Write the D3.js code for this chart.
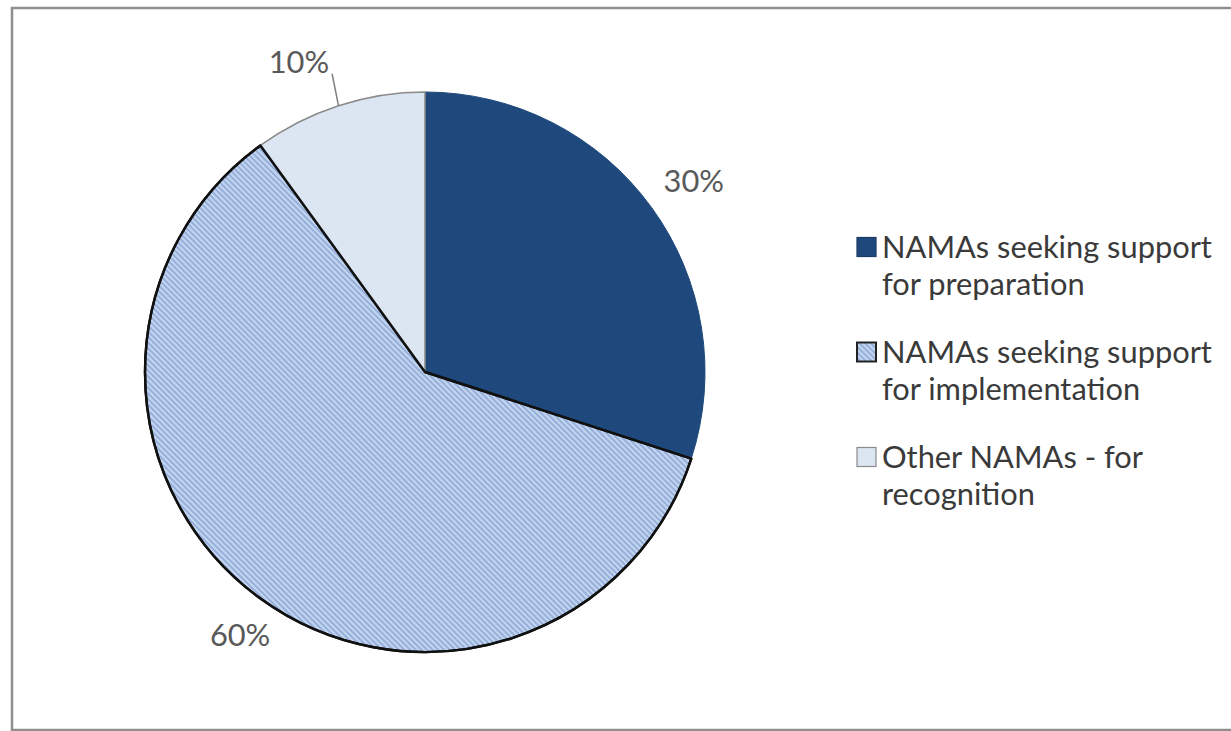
<!DOCTYPE html>
<html>
<head>
<meta charset="utf-8">
<script src="https://cdn.jsdelivr.net/npm/d3@7"></script>
<style>
  body { margin: 0; background: #fff; }
  svg { display: block; }
</style>
</head>
<body>
<div id="chart"></div>
<script>
// slices, clockwise from 12 o'clock
var categories = ["NAMAs seeking support for preparation",
                  "NAMAs seeking support for implementation",
                  "Other NAMAs - for recognition"];
var values = [30, 60, 10];
var valueLabels = ["30%", "60%", "10%"];

var width = 1231,
    height = 731,
    radius = 280,
    cx = 425,
    cy = 372;

var fontFamily = "Lato, 'Open Sans', 'DejaVu Sans', sans-serif";

var svg = d3.select("#chart").append("svg")
    .attr("width", width)
    .attr("height", height);

// hatch for the implementation slice
var defs = svg.append("defs");
var pat = defs.append("pattern")
    .attr("id", "hatch")
    .attr("patternUnits", "userSpaceOnUse")
    .attr("width", 4)
    .attr("height", 4)
    .attr("patternTransform", "rotate(-45)");
pat.append("rect")
    .attr("width", 4).attr("height", 4)
    .attr("fill", "#c3d5ef");
pat.append("line")
    .attr("x1", 1).attr("y1", 0)
    .attr("x2", 1).attr("y2", 4)
    .attr("stroke", "#8eaad8")
    .attr("stroke-width", 1.7);

var fills = ["#1f497d", "url(#hatch)", "#dce6f2"];
var strokes = ["#1f497d", "#111", "#8a8a8a"];
var strokeW = [1, 2.4, 1.5];

// outer frame (right and bottom edges run off the picture)
svg.append("rect")
    .attr("x", 12)
    .attr("y", 8)
    .attr("width", width)
    .attr("height", 722)
    .attr("fill", "none")
    .style("stroke", "#8f8f8f")
    .style("stroke-width", 2.5);

// font size fitted so the legend text has the reference width
var probe = svg.append("text")
    .style("font-family", fontFamily)
    .style("font-size", "32px")
    .text("NAMAs seeking support");
var fontSize = 32 * 330 / probe.node().getComputedTextLength();
probe.remove();

var pie = d3.pie()
    .sort(null)
    .value(function(d) { return d; });

var arcs = pie(values);

var arc = d3.arc()
    .innerRadius(0)
    .outerRadius(radius);

var labelArc = d3.arc()
    .innerRadius(radius * 1.16)
    .outerRadius(radius * 1.16);

var g = svg.append("g")
    .attr("transform", "translate(" + cx + "," + cy + ")");

g.selectAll(".slice")
    .data(arcs)
    .enter().append("path")
    .attr("class", "slice")
    .attr("d", arc)
    .attr("fill", function(d, i) { return fills[i]; })
    .style("stroke", function(d, i) { return strokes[i]; })
    .style("stroke-width", function(d, i) { return strokeW[i]; })
    .style("stroke-linejoin", "round");

// the hatched slice's dark outline sits on top of its neighbours
g.append("path")
    .attr("d", arc(arcs[1]))
    .attr("fill", "none")
    .style("stroke", strokes[1])
    .style("stroke-width", strokeW[1])
    .style("stroke-linejoin", "round");

// data labels
arcs.forEach(function(d, i) {
    var mid = (d.startAngle + d.endAngle) / 2;
    if (d.value < 15) {
        // small slice: leader line + label at its end
        var p0 = [Math.sin(mid) * radius, -Math.cos(mid) * radius];
        var r1 = radius * 1.12;
        var p1 = [Math.sin(mid) * r1 + 4, -Math.cos(mid) * r1];
        g.append("line")
            .attr("x1", p0[0]).attr("y1", p0[1])
            .attr("x2", p1[0]).attr("y2", p1[1])
            .style("stroke", "#7f7f7f")
            .style("stroke-width", 1.5);
        g.append("text")
            .attr("x", p1[0] - 3)
            .attr("y", p1[1] - 1)
            .style("text-anchor", "end")
            .style("font-family", fontFamily)
            .style("font-size", fontSize + "px")
            .style("fill", "#595959")
            .text(valueLabels[i]);
    } else {
        var c = labelArc.centroid(d);
        g.append("text")
            .attr("x", c[0] + 6)
            .attr("y", c[1])
            .attr("dy", "0.35em")
            .style("text-anchor", "middle")
            .style("font-family", fontFamily)
            .style("font-size", fontSize + "px")
            .style("fill", "#595959")
            .text(valueLabels[i]);
    }
});

// legend
var legendX = 857,
    legendY = 247,
    itemGap = 105,
    lineGap = 37,
    box = 19,
    maxTextW = 340;

function wrap(str) {
    var words = str.split(" "), lines = [], cur = "";
    var t = svg.append("text")
        .style("font-family", fontFamily)
        .style("font-size", fontSize + "px");
    words.forEach(function(w) {
        var test = cur ? cur + " " + w : w;
        t.text(test);
        if (cur && t.node().getComputedTextLength() > maxTextW) {
            lines.push(cur);
            cur = w;
        } else {
            cur = test;
        }
    });
    lines.push(cur);
    t.remove();
    return lines;
}

var legend = svg.append("g").attr("class", "legend");

categories.forEach(function(name, i) {
    var y = legendY + i * itemGap;
    legend.append("rect")
        .attr("x", legendX)
        .attr("y", y - box / 2)
        .attr("width", box)
        .attr("height", box)
        .attr("fill", fills[i])
        .style("stroke", i == 1 ? "#222" : (i == 0 ? "#1a3a66" : "#8a8a8a"))
        .style("stroke-width", i == 1 ? 2 : 1.2);

    var txt = legend.append("text")
        .attr("x", legendX + box + 6)
        .attr("y", y)
        .style("font-family", fontFamily)
        .style("font-size", fontSize + "px")
        .style("fill", "#3a3a3a");

    wrap(name).forEach(function(line, j) {
        txt.append("tspan")
            .attr("x", legendX + box + 6)
            .attr("y", y + j * lineGap)
            .attr("dy", "0.35em")
            .text(line);
    });
});
</script>
</body>
</html>
